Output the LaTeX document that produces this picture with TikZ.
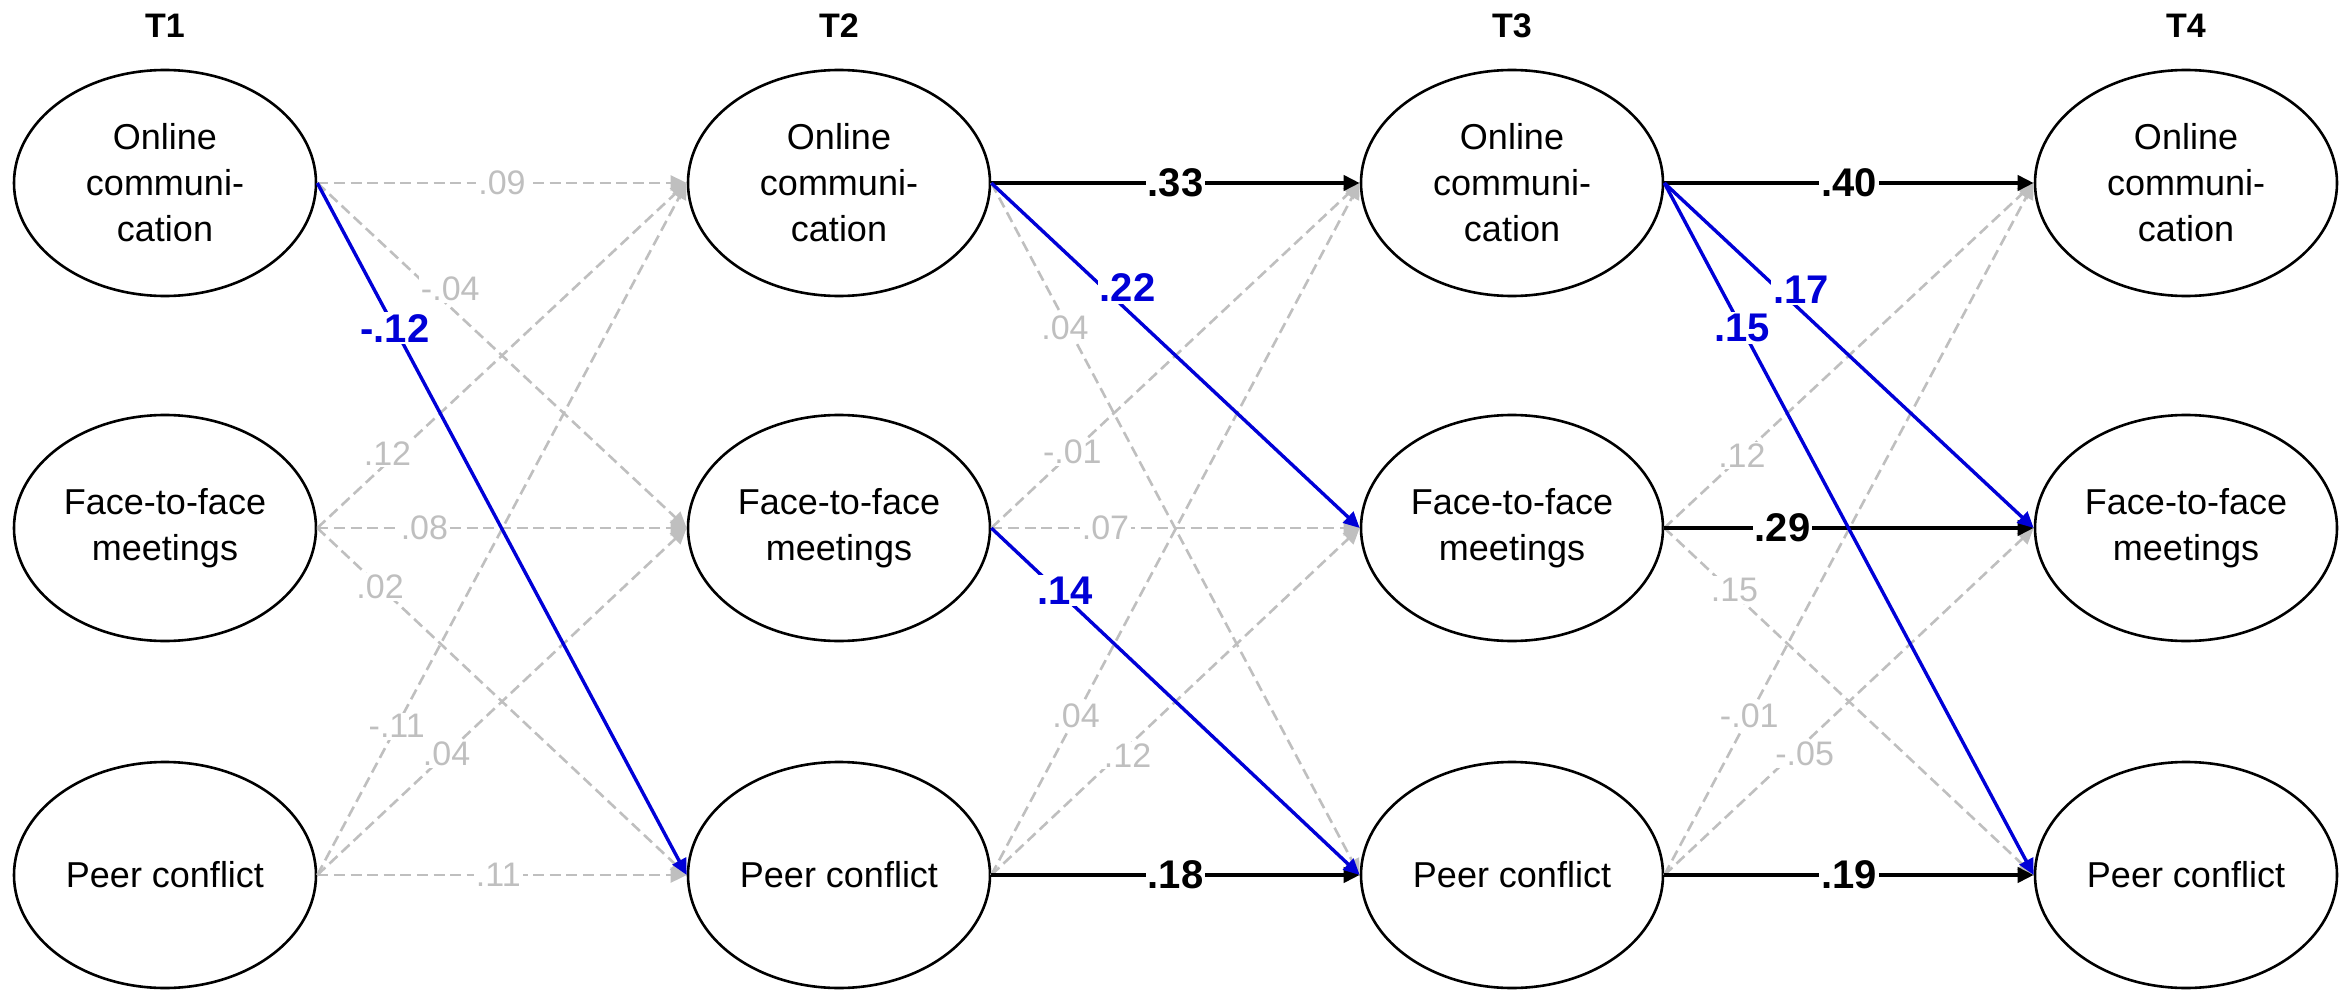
\documentclass[tikz,border=0pt]{standalone}
\usepackage{fontspec}
\setmainfont{Liberation Sans}
\usetikzlibrary{shapes.geometric,arrows.meta}
\definecolor{lgray}{RGB}{191,191,191}
\definecolor{myblue}{RGB}{0,0,215}
\begin{document}
\begin{tikzpicture}[x=0.5pt,y=-0.5pt,
 var/.style={ellipse,draw=black,line width=1.3pt,minimum width=151pt,minimum height=113pt,inner sep=0pt,align=center,font=\fontsize{18pt}{23pt}\selectfont},
 hdr/.style={font=\bfseries\fontsize{17pt}{20pt}\selectfont},
 tip/.style={-{Triangle[length=8pt,width=7.5pt]}},
 gpath/.style={draw=lgray,line width=1.3pt,dash pattern=on 5.5pt off 2.8pt,tip},
 kpath/.style={draw=black,line width=1.9pt,tip},
 bpath/.style={draw=myblue,line width=1.7pt,tip},
 glab/.style={fill=white,inner sep=1pt,text=lgray,font=\fontsize{17pt}{19pt}\selectfont},
 klab/.style={fill=white,inner sep=1pt,text=black,font=\bfseries\fontsize{20pt}{22pt}\selectfont},
 blab/.style={fill=white,inner sep=1pt,text=myblue,font=\bfseries\fontsize{20pt}{22pt}\selectfont},
]
\useasboundingbox (0,0) rectangle (2351,990);

% headers
\node[hdr] (h1) at (165,26) {T1};
\node[hdr] (h2) at (839,26) {T2};
\node[hdr] (h3) at (1512,26) {T3};
\node[hdr] (h4) at (2186,26) {T4};

% variables
\foreach \c/\x in {1/165,2/839,3/1512,4/2186}{
  \node[var] (O\c) at (\x,183) {Online\\communi-\\cation};
  \node[var] (F\c) at (\x,528) {Face-to-face\\meetings};
  \node[var] (P\c) at (\x,875) {Peer conflict};
}

% ---------- T1 -> T2 ----------
\draw[gpath] (O1.east) -- node[glab,pos=.5] {.09} (O2.west);
\draw[gpath] (O1.east) -- node[glab,pos=.36,yshift=9pt] {-.04} (F2.west);
\draw[gpath] (F1.east) -- node[glab,pos=.19,yshift=4.5pt] {.12} (O2.west);
\draw[gpath] (F1.east) -- node[glab,pos=.29] {.08} (F2.west);
\draw[gpath] (F1.east) -- node[glab,pos=.17] {.02} (P2.west);
\draw[gpath] (P1.east) -- node[glab,pos=.215] {-.11} (O2.west);
\draw[gpath] (P1.east) -- node[glab,pos=.35] {.04} (F2.west);
\draw[gpath] (P1.east) -- node[glab,pos=.49] {.11} (P2.west);
\draw[bpath] (O1.east) -- node[blab,pos=.21] {-.12} (P2.west);

% ---------- T2 -> T3 ----------
\draw[gpath] (O2.east) -- node[glab,pos=.2,yshift=-3pt] {.04} (P3.west);
\draw[gpath] (F2.east) -- node[glab,pos=.22] {-.01} (O3.west);
\draw[gpath] (F2.east) -- node[glab,pos=.31] {.07} (F3.west);
\draw[gpath] (P2.east) -- node[glab,pos=.23] {.04} (O3.west);
\draw[gpath] (P2.east) -- node[glab,pos=.37,yshift=-4.5pt] {.12} (F3.west);
\draw[kpath] (O2.east) -- node[klab,pos=.5] {.33} (O3.west);
\draw[kpath] (P2.east) -- node[klab,pos=.5] {.18} (P3.west);
\draw[bpath] (O2.east) -- node[blab,pos=.37,yshift=11.5pt] {.22} (F3.west);
\draw[bpath] (F2.east) -- node[blab,pos=.2,yshift=3.5pt] {.14} (P3.west);

% ---------- T3 -> T4 ----------
\draw[gpath] (F3.east) -- node[glab,pos=.21] {.12} (O4.west);
\draw[gpath] (F3.east) -- node[glab,pos=.19,yshift=2pt] {.15} (P4.west);
\draw[gpath] (P3.east) -- node[glab,pos=.23] {-.01} (O4.west);
\draw[gpath] (P3.east) -- node[glab,pos=.38,yshift=-5.5pt] {-.05} (F4.west);
\draw[kpath] (O3.east) -- node[klab,pos=.5] {.40} (O4.west);
\draw[kpath] (F3.east) -- node[klab,pos=.32] {.29} (F4.west);
\draw[kpath] (P3.east) -- node[klab,pos=.5] {.19} (P4.west);
\draw[bpath] (O3.east) -- node[blab,pos=.37,yshift=10.5pt] {.17} (F4.west);
\draw[bpath] (O3.east) -- node[blab,pos=.21] {.15} (P4.west);
\end{tikzpicture}
\end{document}
